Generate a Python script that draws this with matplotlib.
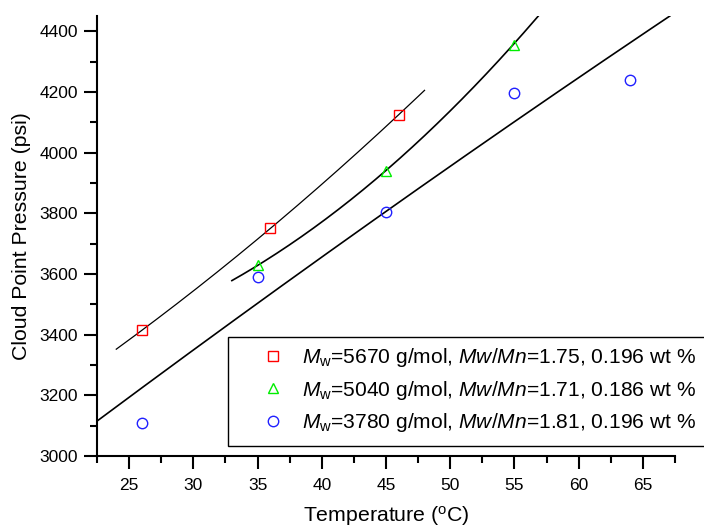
import numpy as np
import matplotlib
matplotlib.use("Agg")
import matplotlib.pyplot as plt
from matplotlib.ticker import MultipleLocator
from matplotlib.patches import Rectangle

plt.rcParams['font.family'] = ['Liberation Sans', 'DejaVu Sans']
plt.rcParams['mathtext.fontset'] = 'custom'
plt.rcParams['mathtext.rm'] = 'Liberation Sans'
plt.rcParams['mathtext.it'] = 'Liberation Sans:italic'

# Data points
t_5670 = [26, 36, 46]
p_5670 = [3415, 3750, 4125]
t_5040 = [35, 45, 55]
p_5040 = [3630, 3940, 4355]
t_3780 = [26, 35, 45, 55, 64]
p_3780 = [3110, 3590, 3805, 4195, 4240]

# Fit curves (knots through which each drawn curve passes)
fit_5670_t = [24.0, 36.0, 48.0]
fit_5670_p = [3352, 3750, 4205]
fit_5040_t = [33.0, 45.0, 56.9]
fit_5040_p = [3578, 3941, 4452]
fit_3780_t = [22.5, 45.0, 67.1]
fit_3780_p = [3115, 3806, 4450]

labels = [r"$M_{\mathrm{w}}$=5670 g/mol, $Mw/Mn$=1.75, 0.196 wt %",
          r"$M_{\mathrm{w}}$=5040 g/mol, $Mw/Mn$=1.71, 0.186 wt %",
          r"$M_{\mathrm{w}}$=3780 g/mol, $Mw/Mn$=1.81, 0.196 wt %"]

fig = plt.figure(figsize=(7.04, 5.27), dpi=100)
ax = fig.add_axes([97/704, (527-456)/527, (675-97)/704, (456-16)/527])


def fitcurve(tk, pk, lw):
    c = np.polyfit(tk, pk, 2)
    xs = np.linspace(tk[0], tk[-1], 200)
    ax.plot(xs, np.polyval(c, xs), color='black', lw=lw, zorder=2)


fitcurve(fit_5670_t, fit_5670_p, 0.9)
fitcurve(fit_5040_t, fit_5040_p, 1.2)
fitcurve(fit_3780_t, fit_3780_p, 1.2)

h1, = ax.plot(t_5670, p_5670, ls='none', marker='s', ms=6.5, mfc='none', mec='#ff0000', mew=1.0, zorder=3)
h2, = ax.plot(t_5040, p_5040, ls='none', marker='^', ms=7.5, mfc='none', mec='#00ee00', mew=1.0, zorder=3)
h3, = ax.plot(t_3780, p_3780, ls='none', marker='o', ms=7.5, mfc='none', mec='#2020ff', mew=1.0, zorder=3)

ax.set_xlim(22.5, 67.5)
ax.set_ylim(3000, 4450)
ax.xaxis.set_major_locator(MultipleLocator(5))
ax.xaxis.set_minor_locator(MultipleLocator(2.5))
ax.yaxis.set_major_locator(MultipleLocator(200))
ax.yaxis.set_minor_locator(MultipleLocator(100))
ax.spines['top'].set_visible(False)
ax.spines['right'].set_visible(False)
for s in ('left', 'bottom'):
    ax.spines[s].set_linewidth(1.5)
ax.tick_params(which='major', direction='out', length=9.5, width=1.5, labelsize=12.5)
ax.tick_params(which='minor', direction='out', length=5, width=1.5)
ax.tick_params(axis='x', which='major', pad=6.5)
ax.tick_params(axis='y', which='major', pad=4.3)

ax.set_xlabel(r"Temperature ($^{\mathrm{o}}$C)", fontsize=15.3, labelpad=8)
ax.set_ylabel("Cloud Point Pressure (psi)", fontsize=15.3, labelpad=6)

# legend frame (extends beyond the right figure edge, as in the reference)
frame = Rectangle((228/704, (527-446)/527), (720-228)/704, (446-337)/527,
                  transform=fig.transFigure, fill=True, facecolor='white',
                  edgecolor='black', lw=1.0, zorder=4, clip_on=False)
ax.add_patch(frame)
fs = 15.1
leg = ax.legend([h1, h2, h3], labels, loc='center left',
                bbox_to_anchor=((273 - fs*100/72*0.5)/704, (527-390)/527),
                bbox_transform=fig.transFigure,
                borderaxespad=0, borderpad=0, fontsize=fs, frameon=False,
                handletextpad=0.9, handlelength=1.0, labelspacing=0.45)
leg.set_zorder(5)

fig.savefig("out.png", dpi=100)
